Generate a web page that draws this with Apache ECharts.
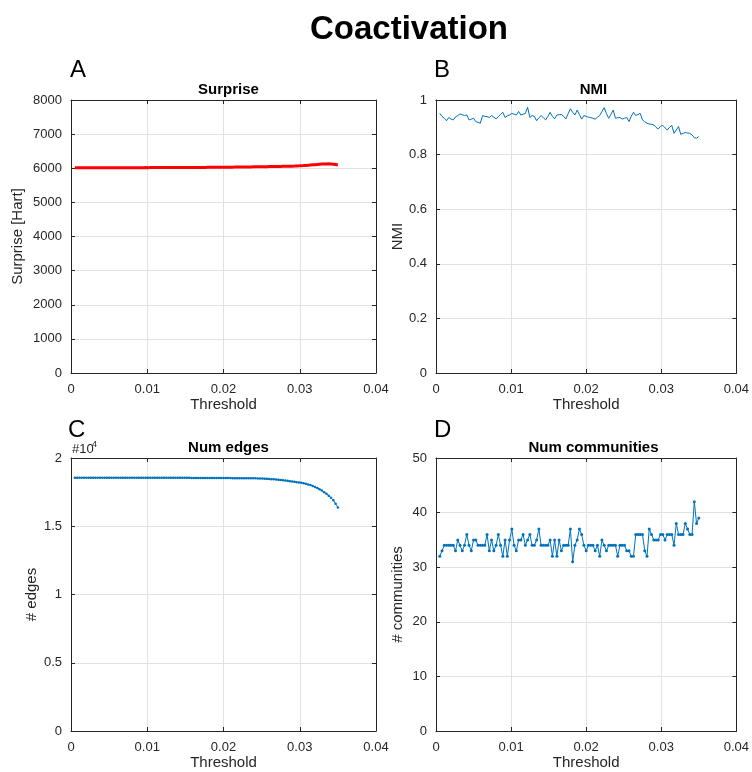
<!DOCTYPE html>
<html><head><meta charset="utf-8">
<script src="https://cdn.jsdelivr.net/npm/echarts@6/dist/echarts.min.js"></script>
<style>html,body{margin:0;padding:0;background:#fff}#c{width:752px;height:772px}</style>
</head><body><div id="c"></div>
<script>
const thresholds = [
0.0005,0.0008,0.0011,0.0014,0.0017,0.002,0.0023,0.0026,0.0029,0.0032,
0.0035,0.0038,0.0041,0.0044,0.0047,0.005,0.0053,0.0056,0.0059,0.0062,
0.0065,0.0068,0.0071,0.0074,0.0077,0.008,0.0083,0.0086,0.0089,0.0092,
0.0095,0.0098,0.0101,0.0104,0.0107,0.011,0.0113,0.0116,0.0119,0.0122,
0.0125,0.0128,0.0131,0.0134,0.0137,0.014,0.0143,0.0146,0.0149,0.0152,
0.0155,0.0158,0.0161,0.0164,0.0167,0.017,0.0173,0.0176,0.0179,0.0182,
0.0185,0.0188,0.0191,0.0194,0.0197,0.02,0.0203,0.0206,0.0209,0.0212,
0.0215,0.0218,0.0221,0.0224,0.0227,0.023,0.0233,0.0236,0.0239,0.0242,
0.0245,0.0248,0.0251,0.0254,0.0257,0.026,0.0263,0.0266,0.0269,0.0272,
0.0275,0.0278,0.0281,0.0284,0.0287,0.029,0.0293,0.0296,0.0299,0.0302,
0.0305,0.0308,0.0311,0.0314,0.0317,0.032,0.0323,0.0326,0.0329,0.0332,
0.0335,0.0338,0.0341,0.0344,0.0347,0.035];

const surprise = [
6012,6012,6013,6012,6013,6013,6014,6013,6014,6014,
6014,6015,6014,6015,6015,6015,6016,6015,6016,6016,
6016,6017,6016,6017,6017,6017,6018,6017,6018,6018,
6018,6019,6018,6019,6019,6020,6019,6020,6020,6020,
6021,6020,6021,6021,6022,6021,6022,6022,6023,6022,
6023,6023,6024,6024,6024,6025,6025,6025,6026,6026,
6027,6027,6028,6028,6029,6030,6030,6031,6032,6032,
6033,6034,6035,6036,6037,6038,6039,6040,6041,6042,
6043,6044,6045,6046,6047,6048,6049,6050,6051,6052,
6053,6055,6056,6058,6060,6062,6064,6067,6070,6074,
6078,6083,6088,6094,6100,6106,6112,6117,6121,6125,
6128,6130,6128,6120,6108,6095];

const nmi = [
0.951,0.940,0.933,0.924,0.936,0.930,0.927,0.938,0.943,0.949,
0.946,0.943,0.945,0.927,0.930,0.933,0.921,0.918,0.915,0.943,
0.940,0.939,0.936,0.943,0.937,0.931,0.939,0.947,0.955,0.936,
0.942,0.945,0.951,0.948,0.945,0.958,0.945,0.948,0.951,0.973,
0.936,0.943,0.940,0.924,0.935,0.943,0.935,0.927,0.940,0.955,
0.940,0.931,0.945,0.946,0.947,0.940,0.931,0.950,0.968,0.955,
0.945,0.963,0.947,0.930,0.943,0.940,0.937,0.936,0.933,0.930,
0.937,0.943,0.958,0.972,0.950,0.933,0.948,0.963,0.933,0.935,
0.936,0.930,0.933,0.936,0.921,0.940,0.955,0.943,0.947,0.951,
0.927,0.920,0.915,0.912,0.911,0.909,0.900,0.894,0.903,0.907,
0.898,0.890,0.900,0.907,0.878,0.890,0.903,0.874,0.878,0.881,
0.879,0.878,0.872,0.862,0.860,0.866];

const numEdges = [
18562,18562,18562,18561,18561,18561,18561,18560,18560,18560,
18560,18560,18559,18559,18559,18559,18558,18558,18558,18558,
18557,18557,18557,18556,18556,18556,18555,18555,18555,18554,
18554,18554,18553,18553,18552,18552,18552,18551,18551,18550,
18550,18549,18549,18548,18548,18547,18547,18546,18545,18545,
18544,18543,18542,18541,18540,18539,18538,18537,18536,18535,
18534,18533,18532,18531,18530,18529,18528,18527,18526,18525,
18524,18523,18522,18521,18520,18519,18517,18515,18512,18509,
18505,18498,18490,18481,18471,18460,18448,18435,18420,18404,
18386,18367,18347,18326,18304,18281,18257,18232,18207,18190,
18150,18105,18060,18020,17950,17880,17800,17710,17610,17500,
17380,17240,17080,16900,16650,16380];

const numCommunities = [
32,33,34,34,34,34,34,33,35,34,
33,34,36,34,33,35,35,34,34,34,
34,36,33,35,33,34,36,34,32,35,
32,35,37,34,33,35,35,36,34,35,
36,34,34,35,37,34,34,34,34,35,
32,35,32,35,33,34,34,34,37,31,
34,35,37,36,34,33,34,34,34,33,
34,32,35,34,33,34,34,34,34,32,
34,34,34,33,33,32,32,36,36,36,
36,33,32,37,36,35,35,35,36,36,
35,36,36,36,34,38,36,36,36,38,
37,36,36,42,38,39];

const xTickLabels = ['0','0.01','0.02','0.03','0.04'];

const FONT = '"Liberation Sans", Arial, Helvetica, sans-serif';
const AX = '#262626';
const GRIDC = '#e2e2e2';
const BLUE = '#0072BD';

const panels = [
  {left:71, top:100, title:'Surprise', yName:'Surprise [Hart]', yGap:46, min:0, max:8000, interval:1000, fmt:v=>String(v)},
  {left:436, top:100, title:'NMI', yName:'NMI', yGap:31, min:0, max:1, interval:0.2, fmt:v=>String(+v.toFixed(1))},
  {left:71, top:458, title:'Num edges', yName:'# edges', yGap:32, min:0, max:20000, interval:5000, fmt:v=>String(v/10000)},
  {left:436, top:458, title:'Num communities', yName:'# communities', yGap:31, min:0, max:50, interval:10, fmt:v=>String(v)}
];
const W = 305, H = 273;

const grid = [], xAxis = [], yAxis = [], title = [];
panels.forEach((p, i) => {
  grid.push({left:p.left, top:p.top, width:W, height:H, containLabel:false});
  const common = {gridIndex:i, type:'value', min:0, max:0.04, interval:0.01,
    axisLine:{show:true, onZero:false, lineStyle:{color:AX, width:1}},
    axisTick:{show:true, inside:true, length:4, lineStyle:{color:AX}}};
  xAxis.push(Object.assign({}, common, {position:'bottom', name:'Threshold', nameLocation:'middle', nameGap:24,
    nameTextStyle:{fontSize:15, color:AX, fontFamily:FONT},
    axisLabel:{margin:10, fontSize:13, color:AX, fontFamily:FONT, formatter:(v)=>xTickLabels[Math.round(v/0.01)]},
    splitLine:{show:true, lineStyle:{color:GRIDC, width:1}}}));
  xAxis.push(Object.assign({}, common, {position:'top', axisLabel:{show:false}, splitLine:{show:false}}));
  const yc = {gridIndex:i, type:'value', min:p.min, max:p.max, interval:p.interval,
    axisLine:{show:true, onZero:false, lineStyle:{color:AX, width:1}},
    axisTick:{show:true, inside:true, length:4, lineStyle:{color:AX}}};
  yAxis.push(Object.assign({}, yc, {position:'left', name:p.yName, nameLocation:'middle', nameGap:p.yGap,
    nameTextStyle:{fontSize:15, color:AX, fontFamily:FONT},
    axisLabel:{margin:9, fontSize:13, color:AX, fontFamily:FONT, formatter:p.fmt},
    splitLine:{show:true, lineStyle:{color:GRIDC, width:1}}}));
  yAxis.push(Object.assign({}, yc, {position:'right', axisLabel:{show:false}, splitLine:{show:false}}));
  title.push({text:p.title, left:p.left + W/2, top:p.top - 23, textAlign:'center',
    textStyle:{fontSize:15, fontWeight:'bold', color:'#000', fontFamily:FONT}});
});
title.push({text:'Coactivation', left:404, top:8, textAlign:'center',
  textStyle:{fontSize:33, fontWeight:'bold', color:'#000', fontFamily:FONT}});

const pairs = arr => thresholds.map((t, i) => [t, arr[i]]);

const series = [
  {type:'line', xAxisIndex:0, yAxisIndex:0, data:pairs(surprise), showSymbol:false, smooth:false,
    lineStyle:{color:'#ff0000', width:3}, itemStyle:{color:'#ff0000'}, animation:false},
  {type:'line', xAxisIndex:2, yAxisIndex:2, data:pairs(nmi), showSymbol:false,
    lineStyle:{color:BLUE, width:1}, itemStyle:{color:BLUE}, animation:false},
  {type:'line', xAxisIndex:4, yAxisIndex:4, data:pairs(numEdges), showSymbol:true, symbol:'circle', symbolSize:2.5,
    lineStyle:{color:BLUE, width:1}, itemStyle:{color:BLUE}, animation:false},
  {type:'line', xAxisIndex:6, yAxisIndex:6, data:pairs(numCommunities), showSymbol:true, symbol:'circle', symbolSize:3,
    lineStyle:{color:BLUE, width:1}, itemStyle:{color:BLUE}, animation:false}
];

const letterStyle = {fontSize:24, fill:'#000', fontFamily:FONT};
const graphic = [
  {type:'text', left:70, top:58, style:Object.assign({text:'A'}, letterStyle)},
  {type:'text', left:434, top:58, style:Object.assign({text:'B'}, letterStyle)},
  {type:'text', left:68, top:418, style:Object.assign({text:'C'}, letterStyle)},
  {type:'text', left:434, top:418, style:Object.assign({text:'D'}, letterStyle)},
  {type:'text', left:72, top:443, style:{text:'#10', fontSize:13, fill:AX, fontFamily:FONT}},
  {type:'text', left:92, top:440, style:{text:'4', fontSize:9, fill:AX, fontFamily:FONT}}
];

const chart = echarts.init(document.getElementById('c'), null, {renderer:'canvas'});
chart.setOption({animation:false, backgroundColor:'#fff', title, grid, xAxis, yAxis, series, graphic});
</script>
</body></html>
